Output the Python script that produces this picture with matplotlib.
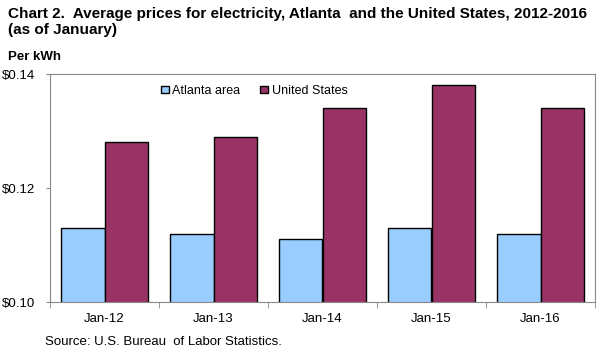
import numpy as np
import matplotlib.pyplot as plt
from matplotlib.patches import Patch

plt.rcParams['font.family'] = ['Liberation Sans', 'DejaVu Sans']

months = ['Jan-12', 'Jan-13', 'Jan-14', 'Jan-15', 'Jan-16']
atlanta = [0.113, 0.112, 0.111, 0.113, 0.112]
us = [0.128, 0.129, 0.134, 0.138, 0.134]
yticks = [0.10, 0.12, 0.14]

fig = plt.figure(figsize=(6.03, 3.62), dpi=100)
ax = fig.add_axes([50 / 603, 1 - 302 / 362, 545 / 603, 228 / 362])

x = np.arange(len(months))
w = 0.4
ax.bar(x - w / 2, atlanta, w, color='#99CCFF', edgecolor='black', linewidth=1, zorder=2)
ax.bar(x + w / 2, us, w, color='#993366', edgecolor='black', linewidth=1, zorder=2)

ax.set_xlim(-0.5, len(months) - 0.5)
ax.set_ylim(0.10, 0.14)
ax.set_yticks(yticks)
ax.set_yticklabels(['\\$%.2f' % v for v in yticks], fontsize=9.5)
ax.set_xticks(x)
ax.set_xticklabels(months, fontsize=9.5)
ax.tick_params(axis='x', length=0, pad=8)
ax.set_xticks(np.arange(-0.5, len(months), 1), minor=True)
ax.tick_params(axis='x', which='minor', length=4, color='#888888')
ax.tick_params(axis='y', length=3, color='#888888', pad=8)
for s in ax.spines.values():
    s.set_color('#888888')

handles = [Patch(facecolor='#99CCFF', edgecolor='black', label='Atlanta area'),
           Patch(facecolor='#993366', edgecolor='black', label='United States')]
ax.legend(handles=handles, loc='upper left', bbox_to_anchor=(0.19, 0.985), ncol=2, frameon=False,
          fontsize=9, handlelength=0.6, handleheight=0.6, handletextpad=0.3, columnspacing=1.6,
          borderaxespad=0.2)

fig.text(8 / 603, 1 - 14 / 362, 'Chart 2.  Average prices for electricity, Atlanta  and the United States, 2012-2016',
         fontsize=11, fontweight='bold', va='center')
fig.text(8 / 603, 1 - 30 / 362, '(as of January)', fontsize=11, fontweight='bold', va='center')
fig.text(8 / 603, 1 - 57 / 362, 'Per kWh', fontsize=9.5, fontweight='bold', va='center')
fig.text(45 / 603, 1 - 342 / 362, 'Source: U.S. Bureau  of Labor Statistics.', fontsize=9.5, va='center')

fig.savefig('out.png', dpi=100)
